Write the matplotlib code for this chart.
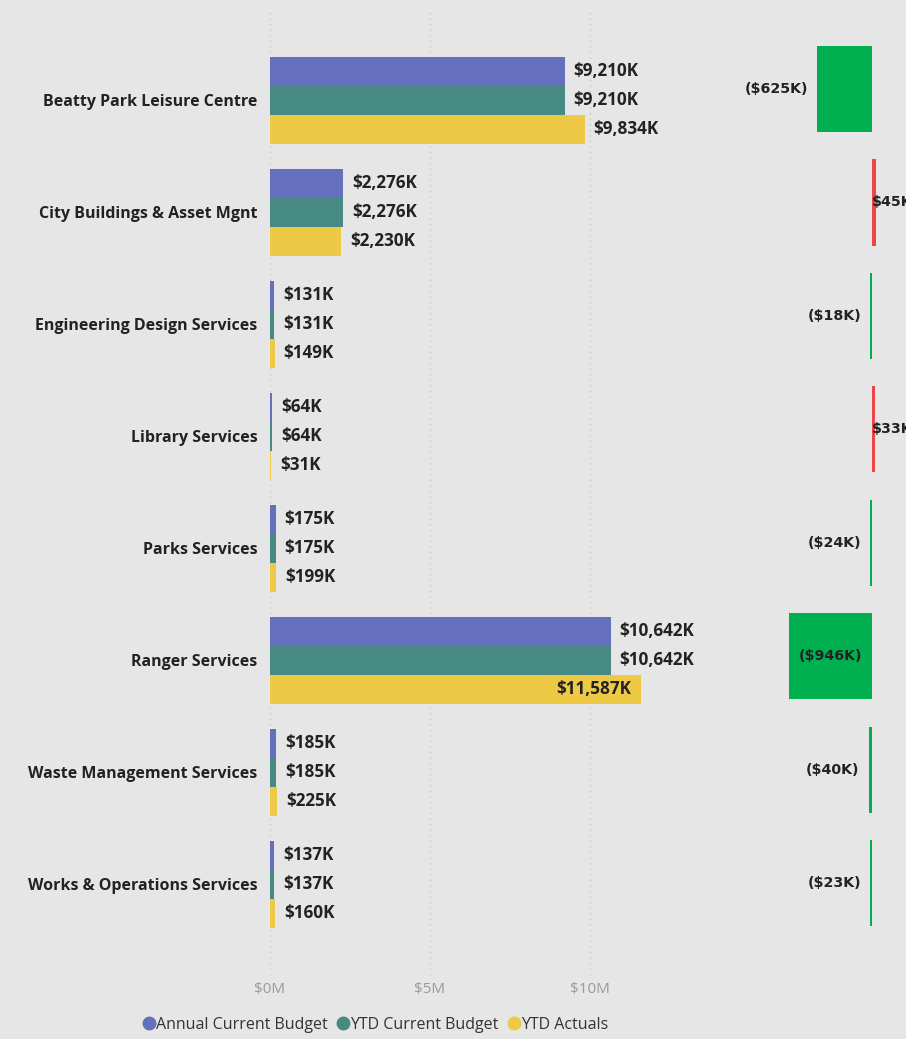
import matplotlib
matplotlib.use("Agg")
import matplotlib.pyplot as plt
from matplotlib.lines import Line2D
import numpy as np

# chart values (in $K)
categories = [
    "Beatty Park Leisure Centre",
    "City Buildings & Asset Mgnt",
    "Engineering Design Services",
    "Library Services",
    "Parks Services",
    "Ranger Services",
    "Waste Management Services",
    "Works & Operations Services",
]
annual_budget = [9210, 2276, 131, 64, 175, 10642, 185, 137]
ytd_budget = [9210, 2276, 131, 64, 175, 10642, 185, 137]
ytd_actuals = [9834, 2230, 149, 31, 199, 11587, 225, 160]
variance = [-625, 45, -18, 33, -24, -946, -40, -23]

series_names = ["Annual Current Budget", "YTD Current Budget", "YTD Actuals"]
series_colors = ["#6470BD", "#478A84", "#EDC946"]
bg = "#E6E6E6"
green = "#00B050"
red = "#F04545"

plt.rcParams["font.family"] = ["Open Sans", "DejaVu Sans"]

fig = plt.figure(figsize=(9.06, 10.39), dpi=100, facecolor=bg)

# main grouped bar panel
ax = fig.add_axes([270 / 906, 64 / 1039, 400 / 906, 963 / 1039], facecolor=bg)
y = np.arange(len(categories))
h = 0.259
data = [annual_budget, ytd_budget, ytd_actuals]
for i, (vals, col) in enumerate(zip(data, series_colors)):
    vals_m = np.array(vals) / 1000
    pos = y + (i - 1) * h
    ax.barh(pos, vals_m, height=h, color=col, zorder=3)
    for p, v in zip(pos, vals):
        txt = "${:,}K".format(v)
        if v > 11000:
            ax.text(v / 1000 - 0.3, p, txt, ha="right", va="center",
                    fontsize=12.3, fontweight="bold", color="#222222", zorder=4)
        else:
            ax.text(v / 1000 + 0.28, p, txt, ha="left", va="center",
                    fontsize=12.3, fontweight="bold", color="#222222", zorder=4)

ax.set_ylim(len(categories) - 1 + 0.81, -0.786)
ax.set_xlim(0, 12.5)
ax.set_yticks(y)
ax.set_yticklabels(categories, fontsize=11.5, fontweight="bold", color="#222222")
ax.set_xticks([0, 5, 10])
ax.set_xticklabels(["$0M", "$5M", "$10M"], fontsize=11, color="#9A9A9A")
ax.tick_params(axis="both", length=0)
ax.tick_params(axis="y", pad=9)
ax.tick_params(axis="x", pad=5)
ax.grid(axis="x", linestyle=(0, (1, 3)), color="#C8C8C8", linewidth=1, zorder=0)
for s in ax.spines.values():
    s.set_visible(False)

# variance panel (its rows sit a little higher than the main panel)
ax2 = fig.add_axes([700 / 906, 64 / 1039, 206 / 906, 963 / 1039], facecolor="none")
var_m = np.array(variance) / 1000
var_colors = [green if v < 0 else red for v in variance]
ax2.barh(y, var_m, height=0.76, color=var_colors, zorder=3)
for yi, v in zip(y, variance):
    txt = "(${}K)".format(-v) if v < 0 else "${}K".format(v)
    kw = dict(va="center", fontsize=10.3, fontweight="bold", color="#222222",
              family="DejaVu Sans", zorder=4)
    if v <= -900:
        ax2.text(v / 2000, yi, txt, ha="center", **kw)
    elif v < 0:
        ax2.text(v / 1000 - 0.1, yi, txt, ha="right", **kw)
    else:
        ax2.text(0, yi, txt, ha="left", **kw)
ax2.set_xlim(-1.955, 0.386)
ax2.set_ylim(7.81, -0.679)
ax2.axis("off")

# legend
handles = [Line2D([0], [0], marker="o", linestyle="none", markersize=9,
                  markerfacecolor=c, markeredgecolor=c) for c in series_colors]
fig.legend(handles, series_names, loc="center", bbox_to_anchor=(0.414, 0.0135),
           ncol=3, frameon=False, fontsize=11.5, handletextpad=0.0,
           columnspacing=0.5, handlelength=0.9, labelcolor="#333333")

fig.savefig("out.png", dpi=100, facecolor=bg)
